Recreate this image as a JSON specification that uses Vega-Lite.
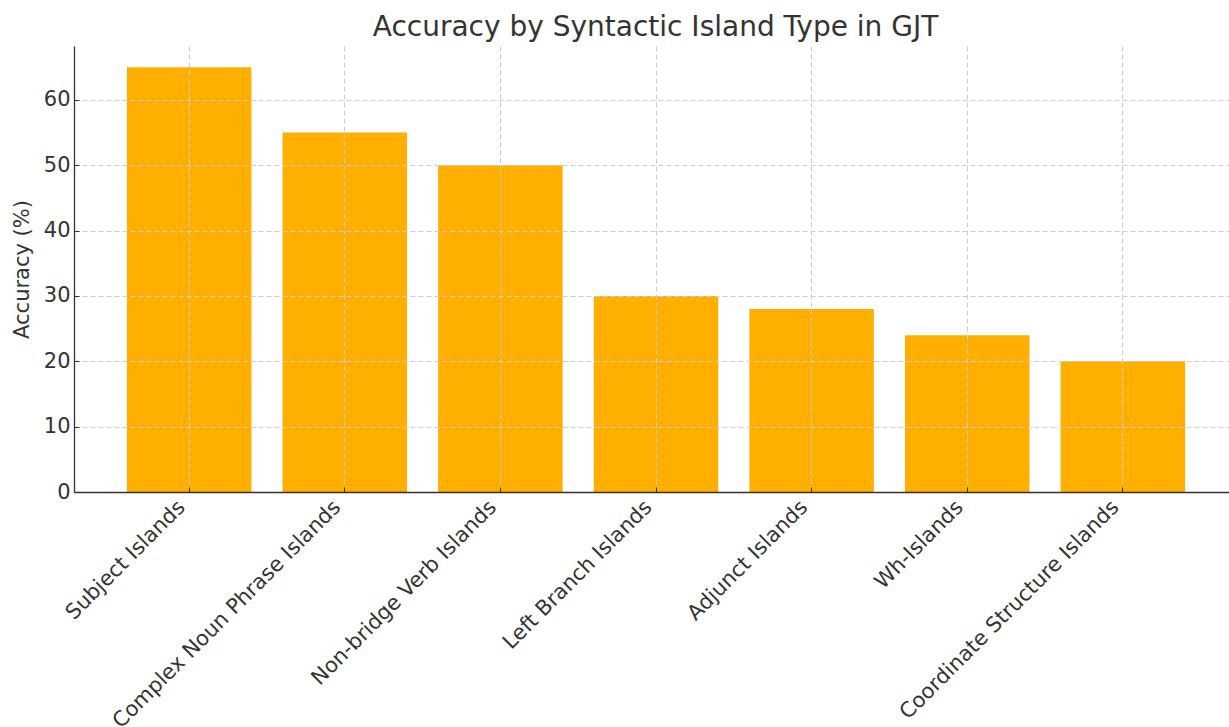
{
  "$schema": "https://vega.github.io/schema/vega-lite/v6.json",
  "autosize": "none",
  "padding": {"left": 74, "top": 46, "right": 0, "bottom": 235},
  "width": 1155,
  "height": 446,
  "background": "white",
  "title": {"text": "Accuracy by Syntactic Island Type in GJT", "fontSize": 28, "font": "DejaVu Sans", "fontWeight": "normal", "color": "#333333", "offset": 4, "anchor": "middle", "dx": 4},
  "data": {"values": [
    {"island": "Subject Islands", "accuracy": 65},
    {"island": "Complex Noun Phrase Islands", "accuracy": 55},
    {"island": "Non-bridge Verb Islands", "accuracy": 50},
    {"island": "Left Branch Islands", "accuracy": 30},
    {"island": "Adjunct Islands", "accuracy": 28},
    {"island": "Wh-Islands", "accuracy": 24},
    {"island": "Coordinate Structure Islands", "accuracy": 20}
  ]},
  "mark": {"type": "bar", "color": "#FFAF00"},
  "encoding": {
    "x": {"field": "island", "type": "nominal", "sort": null,
      "scale": {"paddingInner": 0.2, "paddingOuter": 0.34, "range": [0, 1164]},
      "axis": {"title": null, "labelAngle": -45, "labelFontSize": 21, "labelFont": "DejaVu Sans", "labelColor": "#333333", "labelLimit": 400,
        "domainColor": "#333333", "domainWidth": 1.3, "tickColor": "#333333", "tickSize": -5, "labelOffset": -15,
        "grid": true, "gridDash": [5, 3], "gridColor": "#cccccc", "gridWidth": 1, "zindex": 1, "labelPadding": 9}},
    "y": {"field": "accuracy", "type": "quantitative",
      "scale": {"domain": [0, 68.25], "nice": false},
      "axis": {"title": "Accuracy (%)", "titleFontSize": 21, "titleFont": "DejaVu Sans", "titleFontWeight": "normal", "titleColor": "#333333", "titlePadding": 11,
        "values": [0, 10, 20, 30, 40, 50, 60], "labelFontSize": 21, "labelFont": "DejaVu Sans", "labelColor": "#333333",
        "domainColor": "#333333", "domainWidth": 1.3, "tickColor": "#333333", "tickSize": -5, "labelPadding": 9,
        "grid": true, "gridDash": [5, 3], "gridColor": "#cccccc", "gridWidth": 1, "zindex": 1}}
  },
  "config": {"view": {"stroke": null}}
}
